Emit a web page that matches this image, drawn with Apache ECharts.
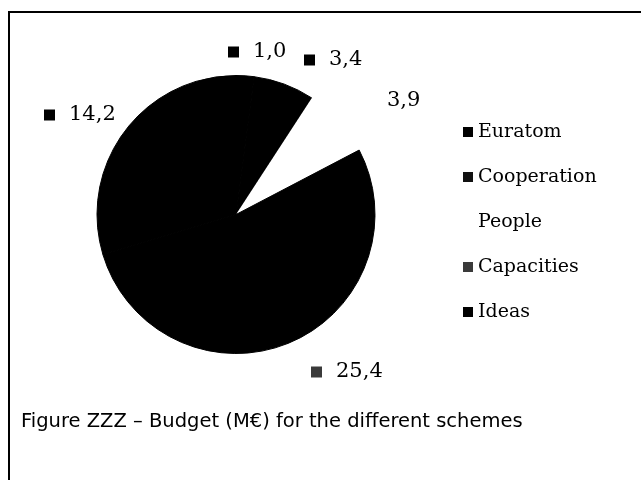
<!DOCTYPE html>
<html>
<head>
<meta charset="utf-8">
<script src="https://cdn.jsdelivr.net/npm/echarts@6/dist/echarts.min.js"></script>
<style>
  html, body { margin: 0; padding: 0; background: #fff; }
  #chart { width: 641px; height: 480px; }
</style>
</head>
<body>
<div id="chart"></div>
<script>
// ---- data ----
var categories = ['Euratom', 'Cooperation', 'People', 'Capacities', 'Ideas'];
var values = [1.0, 3.4, 3.9, 25.4, 14.2];
var captionText = 'Figure ZZZ – Budget (M€) for the different schemes';

// ---- styles ----
var sliceColors = ['#000000', '#000000', '#ffffff', '#000000', '#000000'];
var sliceBorders = [1, 1, 0, 1, 1];
var keyColors = ['#000000', '#111111', '#ffffff', '#3a3a3a', '#000000'];
var markerKeys = ['mk', 'mk', 'mw', 'mg', 'mk'];
// label anchor (left edge, vertical middle) for each slice label
var labelPos = [[228, 52], [304, 60], [362, 101], [311, 372], [44, 115]];

var chart = echarts.init(document.getElementById('chart'), null, { renderer: 'canvas' });

var pieData = categories.map(function (c, i) {
  return {
    name: c,
    value: values[i],
    itemStyle: { color: sliceColors[i], borderColor: sliceColors[i], borderWidth: sliceBorders[i] }
  };
});

var legendData = categories.map(function (c, i) {
  return { name: c, itemStyle: { color: keyColors[i], borderWidth: 0 } };
});

var option = {
  backgroundColor: '#ffffff',
  animation: false,
  title: {
    text: captionText,
    left: 21,
    top: 412,
    padding: 0,
    textStyle: {
      fontFamily: 'DejaVu Sans',
      fontSize: 19.5,
      fontWeight: 'normal',
      color: '#000'
    }
  },
  legend: {
    orient: 'vertical',
    left: 458,
    top: 117,
    icon: 'rect',
    itemWidth: 10,
    itemHeight: 10,
    itemGap: 25,
    selectedMode: false,
    data: legendData,
    itemStyle: { borderWidth: 0 },
    textStyle: {
      fontFamily: 'DejaVu Serif',
      fontSize: 19,
      lineHeight: 20,
      color: '#000'
    }
  },
  graphic: [
    {
      type: 'polyline',
      shape: { points: [[9, 490], [9, 12], [645, 12]] },
      style: { stroke: '#000', lineWidth: 2, fill: null },
      silent: true
    }
  ],
  series: [
    {
      type: 'pie',
      center: [236, 214.5],
      radius: 139,
      startAngle: 90,
      clockwise: true,
      data: pieData,
      emphasis: { disabled: true },
      labelLine: { show: false },
      label: {
        show: true,
        position: 'outside',
        formatter: function (p) {
          return '{' + markerKeys[p.dataIndex] + '|}{v|' +
            p.value.toFixed(1).replace('.', ',') + '}';
        },
        rich: {
          mk: { width: 11, height: 11, backgroundColor: '#000000' },
          mg: { width: 11, height: 11, backgroundColor: '#3a3a3a' },
          mw: { width: 11, height: 11, backgroundColor: 'transparent' },
          v: {
            fontFamily: 'DejaVu Serif',
            fontSize: 21,
            color: '#000',
            padding: [0, 0, 0, 14]
          }
        }
      },
      labelLayout: function (params) {
        var p = labelPos[params.dataIndex];
        return { x: p[0], y: p[1], align: 'left', verticalAlign: 'middle' };
      }
    }
  ]
};

chart.setOption(option);
</script>
</body>
</html>
